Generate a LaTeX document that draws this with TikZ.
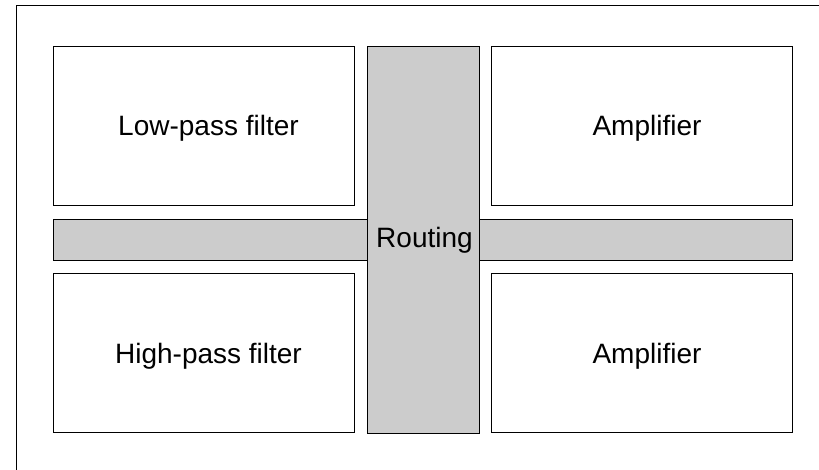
\documentclass[tikz,border=0pt]{standalone}
\usepackage{fontspec}
\setmainfont{Liberation Sans}
\begin{document}
\begin{tikzpicture}[x=1pt,y=-1pt,
  blockbox/.style={draw=black, line width=1pt, fill=white, rectangle, inner sep=0pt,
    minimum width=301pt, minimum height=159pt, font=\fontsize{28}{33}\selectfont,
    text height=20pt, text depth=0pt,
    execute at begin node={\hspace*{10pt}}},
  routebox/.style={draw=black, line width=1pt, fill=routegray, rectangle, inner sep=0pt,
    font=\fontsize{28}{33}\selectfont, text height=15pt, text depth=0pt}]
\definecolor{routegray}{HTML}{CCCCCC}
\useasboundingbox (0,0) rectangle (819,469);
\draw[line width=1pt] (16,480) -- (16,5) -- (830,5);
\node[blockbox] (lpf) at (203.5,125.5) {Low-pass filter};
\node[blockbox] (amp1) at (642,125.5) {Amplifier};
\node[blockbox] (hpf) at (203.5,353) {High-pass filter};
\node[blockbox] (amp2) at (642,353) {Amplifier};
\node[routebox, minimum width=739pt, minimum height=41pt] (hbar) at (422.5,239.5) {};
\node[routebox, minimum width=112pt, minimum height=387pt] (routing) at (423,239.5) {\hspace*{3pt}Routing};
\end{tikzpicture}
\end{document}
